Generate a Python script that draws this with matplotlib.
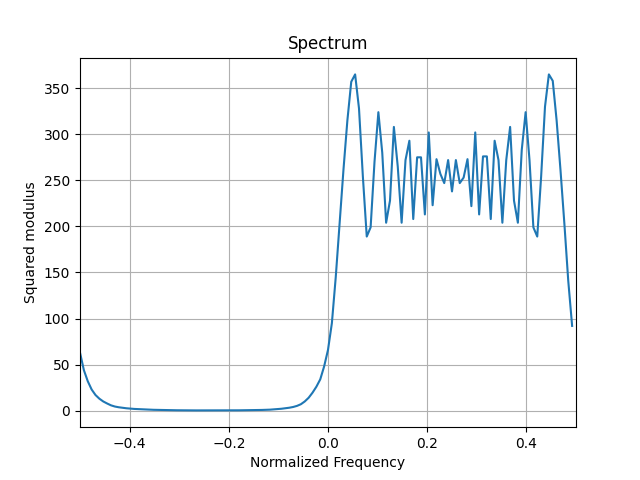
"""Spectrum of a signal: squared modulus vs normalized frequency."""

import numpy as np
import matplotlib

matplotlib.use("Agg")
import matplotlib.pyplot as plt

# 128 bins from -0.5 to 0.5 - 1/128
freqs = np.arange(-64, 64) / 128.0

# values
low_half = [
    63, 44, 32, 23, 17, 13, 10, 7.8, 5.8, 4.5,
    3.7, 3.1, 2.6, 2.2, 1.9, 1.7, 1.5, 1.3, 1.1, 0.95,
    0.85, 0.75, 0.65, 0.55, 0.5, 0.45, 0.4, 0.35, 0.3, 0.3,
    0.3, 0.3, 0.3, 0.3, 0.3, 0.3, 0.3, 0.3, 0.3, 0.32,
    0.35, 0.4, 0.45, 0.5, 0.55, 0.6, 0.7, 0.8, 0.9, 1.1,
    1.4, 1.7, 2.1, 2.6, 3.2, 4.0, 5.2, 7.0, 10, 14,
    19.5, 26, 34, 48,
]
high_half = [
    66, 95, 145, 203, 262, 315, 357, 365, 328, 254,
    189, 199, 270, 324, 280, 204, 228, 308, 265, 204,
    272, 293, 208, 275, 275, 213, 302, 223, 273, 257,
    247, 272, 238, 272, 247, 253, 273, 222, 302, 213,
    276, 276, 208, 293, 272, 204, 272, 308, 228, 204,
    283, 324, 272, 199, 189, 254, 330, 365, 358, 315,
    261, 203, 141, 92,
]
power = np.array(low_half + high_half, dtype=float)


def main() -> None:
    fig, ax = plt.subplots(figsize=(6.4, 4.8), dpi=100)
    ax.plot(freqs, power)
    ax.set_xlim(-0.5, 0.5)
    ax.set_title("Spectrum")
    ax.set_xlabel("Normalized Frequency")
    ax.set_ylabel("Squared modulus")
    ax.grid(True)
    fig.savefig("out.png", dpi=100)
    plt.close(fig)


if __name__ == "__main__":
    main()
